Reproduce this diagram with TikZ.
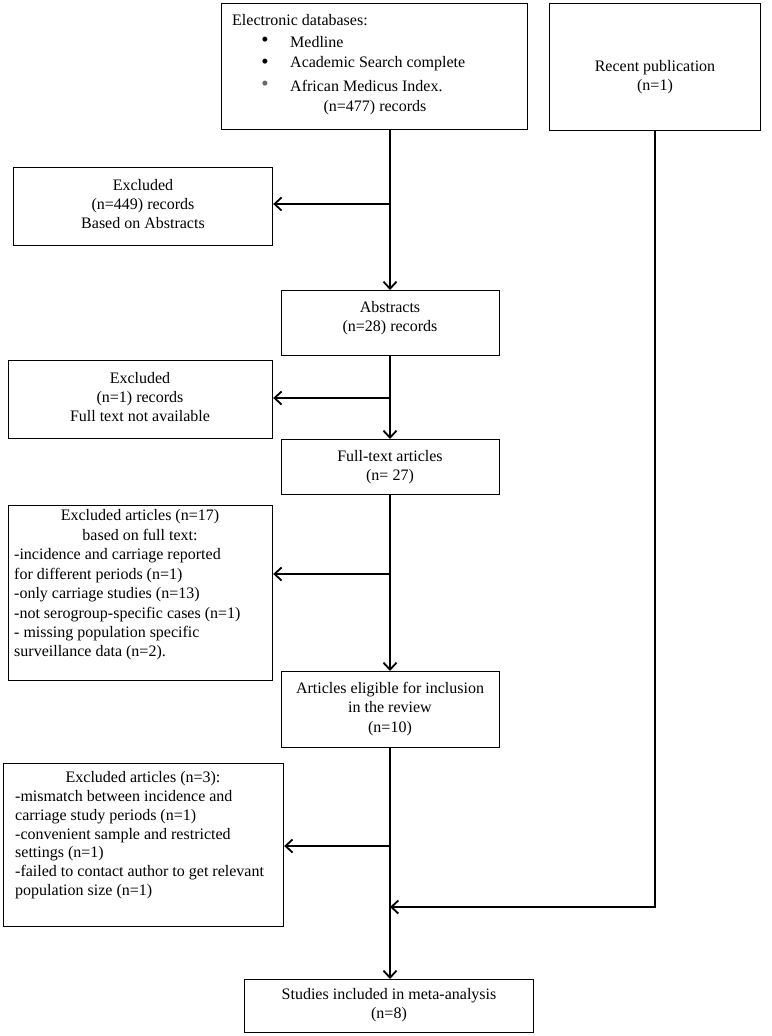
\documentclass[tikz,border=0pt]{standalone}
\usepackage{fontspec}
\setmainfont{Liberation Serif}
\usetikzlibrary{arrows.meta}
\begin{document}
\begin{tikzpicture}[x=1pt,y=-1pt,
  box/.style={draw, line width=1.2pt, rectangle, inner sep=0pt, anchor=north west},
  txt/.style={inner sep=0pt, font=\fontsize{16}{19.4}\selectfont},
  ctxt/.style={txt, align=center},
  ltxt/.style={txt, align=left},
  flow/.style={line width=1.8pt, -{Straight Barb[length=7pt,width=13pt,line width=1.8pt]}}]
\useasboundingbox (0,0) rectangle (771,1036);
% boxes
\node[box, minimum width=306pt, minimum height=126pt] (db) at (221,3) {};
\node[box, minimum width=211pt, minimum height=127pt] (rec) at (549,3) {};
\node[box, minimum width=259pt, minimum height=78pt] (ex1) at (13,167) {};
\node[box, minimum width=218pt, minimum height=65pt] (abs) at (281,290) {};
\node[box, minimum width=264pt, minimum height=78pt] (ex2) at (8,360) {};
\node[box, minimum width=218pt, minimum height=55pt] (ft) at (281,439) {};
\node[box, minimum width=264pt, minimum height=175pt] (ex3) at (8,505) {};
\node[box, minimum width=218pt, minimum height=76pt] (el) at (281,671) {};
\node[box, minimum width=280pt, minimum height=163pt] (ex4) at (3,763) {};
\node[box, minimum width=289pt, minimum height=53pt] (fin) at (244,979) {};
% texts
\node[txt, anchor=west] (dbt) at (232,20) {Electronic databases:};
\node[txt, scale=1.3] (b1) at (265,42) {\textbullet};
\node[txt, scale=1.3] (b2) at (265,64) {\textbullet};
\node[txt, scale=1.3, text=black!60] (b3) at (265,86) {\textbullet};
\node[txt, anchor=west] (d1) at (290,42) {Medline};
\node[txt, anchor=west] (d2) at (290,64) {Academic Search complete};
\node[txt, anchor=west] (d3) at (290,86) {African Medicus Index.};
\node[txt] (d4) at (375,108) {(n=477) records};
\node[ctxt] (rect) at (655,77) {Recent publication\\(n=1)};
\node[ctxt] (ex1t) at (143,204) {Excluded\\(n=449) records\\Based on Abstracts};
\node[ctxt] (abst) at (390,318) {Abstracts\\(n=28) records};
\node[ctxt] (ex2t) at (140,397) {Excluded\\(n=1) records\\Full text not available};
\node[ctxt] (ftt) at (390,467) {Full-text articles\\(n= 27)};
\node[ctxt] (ex3h) at (140,525) {Excluded articles (n=17)\\based on full text:};
\node[ltxt, anchor=west] (ex3t) at (14,604.5) {-incidence and carriage reported\\for different periods (n=1)\\-only carriage studies (n=13)\\-not serogroup-specific cases (n=1)\\- missing population specific\\surveillance data (n=2).};
\node[ctxt] (elt) at (390,709) {Articles eligible for inclusion\\in the review\\(n=10)};
\node[txt] (ex4h) at (143,779) {Excluded articles (n=3):};
\node[ltxt, anchor=west, font=\fontsize{16}{18.7}\selectfont] (ex4t) at (15,844.5) {-mismatch between incidence and\\carriage study periods (n=1)\\-convenient sample and restricted\\settings (n=1)\\-failed to contact author to get relevant\\population size (n=1)};
\node[ctxt] (fint) at (389,1005) {Studies included in meta-analysis\\(n=8)};
% junction coordinates
\coordinate (j1) at (390,204);
\coordinate (j2) at (390,398);
\coordinate (j3) at (390,574);
\coordinate (j4) at (390,846);
\coordinate (j5) at (390,907);
\coordinate (rc) at (655,907);
% connectors
\draw[flow] (db.south -| j1) -- (abs.north -| j1);
\draw[flow] (j1) -- (ex1.east |- j1);
\draw[flow] (abs.south -| j2) -- (ft.north -| j2);
\draw[flow] (j2) -- (ex2.east |- j2);
\draw[flow] (ft.south -| j3) -- (el.north -| j3);
\draw[flow] (j3) -- (ex3.east |- j3);
\draw[flow] (el.south -| j4) -- (fin.north -| j4);
\draw[flow] (j4) -- (ex4.east |- j4);
\draw[flow] (rec.south -| rc) -- (rc) -- (j5);
\end{tikzpicture}
\end{document}
